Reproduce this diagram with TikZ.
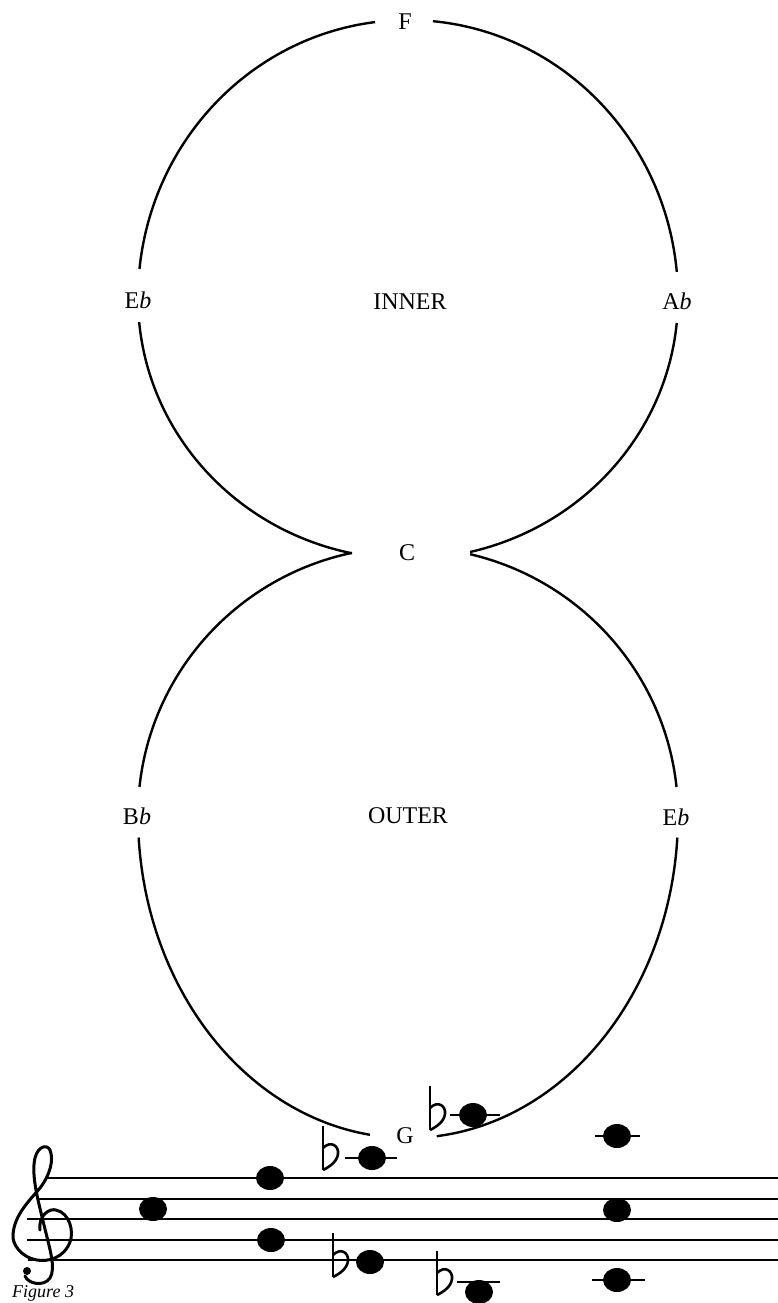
\documentclass[tikz,border=0pt]{standalone}
\usepackage{fontspec}
\setmainfont{Liberation Serif}
\begin{document}
\begin{tikzpicture}[x=1pt,y=-1pt,
  lobe/.style={line width=2.4pt},
  lbl/.style={font=\fontsize{24}{26}\selectfont, inner sep=0pt},
  staffline/.style={line width=2.2pt},
  ledger/.style={line width=2.4pt},
  notehead/.style={fill=black},
  flatsign/.pic={
    \draw[line width=2.6pt] (0,0) -- (0,-44);
    \draw[line width=2.6pt] (0,-22) .. controls (8,-30) and (16,-24) .. (15,-16)
       .. controls (14,-8) and (6,-3) .. (0,0);
  }]
\useasboundingbox (0,0) rectangle (778,1303);
\clip (0,0) rectangle (778,1303);

% centres of the two lobes
\coordinate (ct) at (408,298);
\coordinate (cb) at (408,815);

% upper lobe
\draw[lobe] (ct) ++(-5.4:270 and 278) arc[start angle=-5.4, end angle=-84.7, x radius=270, y radius=278];
\draw[lobe] (ct) ++(-97:270 and 278) arc[start angle=-97, end angle=-174, x radius=270, y radius=278];
\draw[lobe] (ct) ++(174.7:270 and 261) arc[start angle=174.7, end angle=102, x radius=270, y radius=261];
\draw[lobe] (ct) ++(76.7:270 and 261) arc[start angle=76.7, end angle=5.5, x radius=270, y radius=261];

% lower lobe
\draw[lobe] (cb) ++(-102:270 and 268) arc[start angle=-102, end angle=-174, x radius=270, y radius=268];
\draw[lobe] (cb) ++(-76.7:270 and 268) arc[start angle=-76.7, end angle=-6, x radius=270, y radius=268];
\draw[lobe] (cb) ++(176:270 and 323) arc[start angle=176, end angle=98.1, x radius=270, y radius=323];
\draw[lobe] (cb) ++(83.9:270 and 323) arc[start angle=83.9, end angle=4, x radius=270, y radius=323];

% labels
\node[lbl] (f)   at (405,22)  {F};
\node[lbl] (eb1) at (138,300) {E\textit{b}};
\node[lbl] (inn) at (410,302) {INNER};
\node[lbl] (ab)  at (677,301) {A\textit{b}};
\node[lbl] (c)   at (407,553) {C};
\node[lbl] (bb)  at (137,816) {B\textit{b}};
\node[lbl] (out) at (408,816) {OUTER};
\node[lbl] (eb2) at (676,817) {E\textit{b}};
\node[lbl] (g)   at (405,1136) {G};

% staff
\draw[staffline] (45,1178) -- (778,1178);
\draw[staffline] (37,1199) -- (778,1199);
\draw[staffline] (27,1219) -- (778,1219);
\draw[staffline] (27,1240) -- (778,1240);
\draw[staffline] (28,1260) -- (778,1260);

% treble clef
\draw[line width=3pt, line cap=round]
  (40,1230) .. controls (38,1215) and (50,1208) .. (56,1210)
  .. controls (70,1213) and (74,1232) .. (70,1242)
  .. controls (64,1258) and (48,1262) .. (37,1260)
  .. controls (20,1257) and (12,1243) .. (13,1235)
  .. controls (14,1215) and (30,1200) .. (40,1188)
  .. controls (50,1175) and (54,1160) .. (50,1150)
  .. controls (47,1144) and (38,1146) .. (35,1158)
  .. controls (31,1175) and (38,1200) .. (44,1225)
  .. controls (50,1250) and (56,1268) .. (50,1278)
  .. controls (44,1287) and (28,1284) .. (25,1276);
\fill (27,1271) circle (4);

% ledger lines
\draw[ledger] (345,1158) -- (397,1158);
\draw[ledger] (450,1115) -- (500,1115);
\draw[ledger] (457,1282) -- (500,1282);
\draw[ledger] (595,1136) -- (640,1136);
\draw[ledger] (592,1280) -- (645,1280);

% flats
\pic at (323,1170) {flatsign};
\pic at (333,1277) {flatsign};
\pic at (430,1130) {flatsign};
\pic at (437,1295) {flatsign};

% note heads
\fill[notehead] (153,1209) ellipse (14 and 12);
\fill[notehead] (270,1178) ellipse (14 and 12);
\fill[notehead] (271,1240) ellipse (14 and 12);
\fill[notehead] (372,1158) ellipse (14 and 12);
\fill[notehead] (370,1262) ellipse (14 and 12);
\fill[notehead] (473,1115) ellipse (14 and 12);
\fill[notehead] (479,1292) ellipse (14 and 12);
\fill[notehead] (617,1136) ellipse (14 and 12);
\fill[notehead] (617,1210) ellipse (14 and 12);
\fill[notehead] (617,1280) ellipse (14 and 12);

% caption along the lower edge
\node[lbl, font=\fontsize{18}{20}\selectfont\itshape, anchor=base west] (cap) at (12,1297) {Figure 3};
\end{tikzpicture}
\end{document}
